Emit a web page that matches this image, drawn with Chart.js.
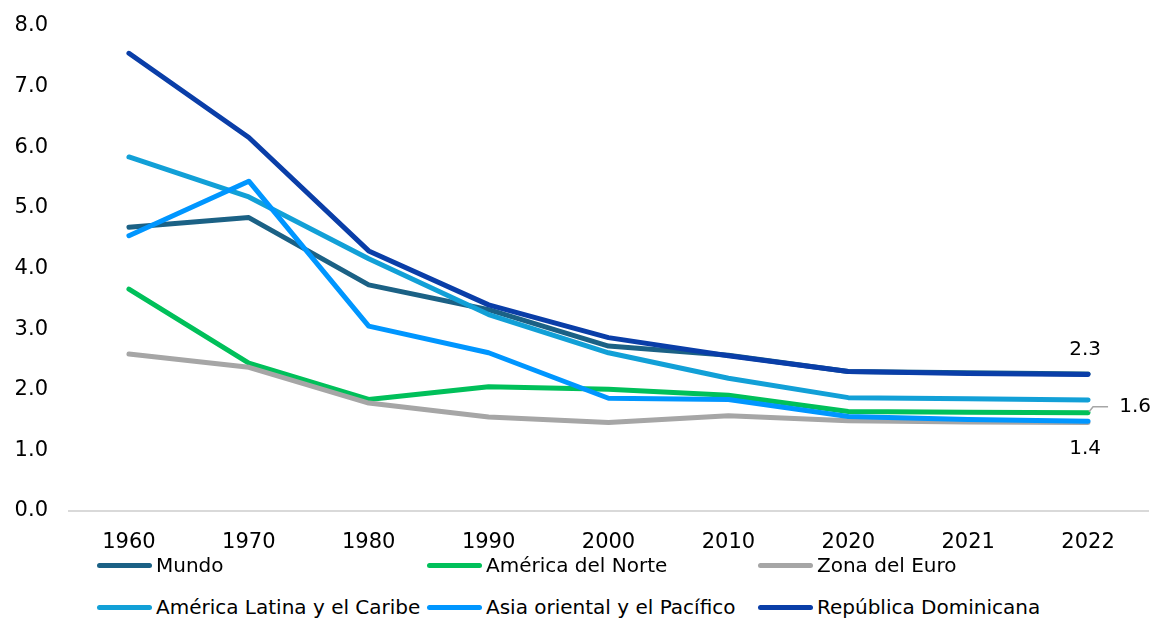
<!DOCTYPE html>
<html>
<head>
<meta charset="utf-8">
<title>Tasa de fecundidad</title>
<script src="https://cdn.jsdelivr.net/npm/chart.js@4/dist/chart.umd.min.js"></script>
<style>
  body { margin: 0; background: #fff; font-family: "DejaVu Sans", sans-serif; }
  #wrap { position: relative; width: 1154px; height: 619px; overflow: hidden; }
  #box { position: absolute; left: 0; top: 0; width: 1154px; height: 555px; }
  .leg { position: absolute; display: flex; align-items: center; height: 28px; font-size: 20px; color: #000; white-space: nowrap; }
  .leg .sw { display: inline-block; width: 55px; height: 5px; border-radius: 3px; margin-right: 4px; }
</style>
</head>
<body>
<div id="wrap">
  <div id="box"><canvas id="linechartdiv"></canvas></div>
</div>
<script>
// datos
var years = ["1960", "1970", "1980", "1990", "2000", "2010", "2020", "2021", "2022"];
var seriesNames = ["Mundo", "América del Norte", "Zona del Euro", "América Latina y el Caribe", "Asia oriental y el Pacífico", "República Dominicana"];
var mundo = [4.68, 4.84, 3.73, 3.32, 2.72, 2.57, 2.30, 2.28, 2.26];
var norte = [3.66, 2.44, 1.84, 2.05, 2.01, 1.91, 1.64, 1.63, 1.62];
var euro = [2.59, 2.37, 1.78, 1.55, 1.46, 1.57, 1.49, 1.47, 1.46];
var latam = [5.84, 5.18, 4.16, 3.24, 2.61, 2.19, 1.87, 1.85, 1.83];
var asia = [4.54, 5.44, 3.05, 2.61, 1.86, 1.84, 1.56, 1.51, 1.48];
var repdom = [7.55, 6.16, 4.29, 3.40, 2.86, 2.56, 2.30, 2.27, 2.25];
var endLabels = ["", "1.6", "1.4", "", "", "2.3"];
var colors = ["#1b6185", "#00c05a", "#a6a6a6", "#12a0d7", "#0096ff", "#0a3ea8"];

var allValues = [mundo, norte, euro, latam, asia, repdom];

var datasets = allValues.map(function (vals, i) {
    return {
        label: seriesNames[i],
        data: vals,
        borderColor: colors[i],
        backgroundColor: colors[i],
        borderWidth: 5,
        borderCapStyle: "round",
        borderJoinStyle: "round",
        pointRadius: 0,
        tension: 0,
        fill: false,
        order: allValues.length - i
    };
});

// etiquetas al final de la serie
var endLabelPlugin = {
    id: "endLabels",
    afterDatasetsDraw: function (chart) {
        var ctx = chart.ctx;
        ctx.save();
        ctx.font = "20px 'DejaVu Sans', sans-serif";
        ctx.fillStyle = "#000";
        ctx.textAlign = "center";
        ctx.textBaseline = "middle";
        chart.data.datasets.forEach(function (ds, i) {
            var txt = endLabels[i];
            if (!txt) return;
            var meta = chart.getDatasetMeta(i);
            var pt = meta.data[meta.data.length - 1];
            if (i === 5) {
                ctx.fillText(txt, pt.x - 3, pt.y - 25);
            } else if (i === 2) {
                ctx.fillText(txt, pt.x - 3, pt.y + 26);
            } else {
                ctx.strokeStyle = "#a6a6a6";
                ctx.lineWidth = 1.5;
                ctx.beginPath();
                ctx.moveTo(pt.x + 1, pt.y - 1);
                ctx.lineTo(pt.x + 5, pt.y - 6);
                ctx.lineTo(pt.x + 20, pt.y - 6);
                ctx.stroke();
                ctx.fillText(txt, pt.x + 47, pt.y - 6);
            }
        });
        ctx.restore();
    }
};

new Chart("linechartdiv", {
    type: "line",
    data: {
        labels: years,
        datasets: datasets
    },
    options: {
        animation: false,
        responsive: true,
        maintainAspectRatio: false,
        layout: { padding: { top: 26, right: 6, left: 0, bottom: 0 } },
        plugins: {
            legend: { display: false },
            tooltip: { enabled: false }
        },
        scales: {
            x: {
                offset: true,
                grid: { display: false, drawTicks: false },
                border: { display: true, color: "#d9d9d9", width: 2 },
                ticks: { color: "#000", font: { size: 21, family: "DejaVu Sans" }, padding: 19, maxRotation: 0 },
                afterFit: function (s) { s.height = 44; s.paddingLeft = 0; s.paddingRight = 0; }
            },
            y: {
                min: 0,
                max: 8,
                grid: { display: false, drawTicks: false },
                border: { display: false },
                ticks: {
                    stepSize: 1,
                    color: "#000",
                    font: { size: 21, family: "DejaVu Sans" },
                    padding: 21,
                    callback: function (v) { return v.toFixed(1); }
                },
                afterFit: function (s) { s.width = 69; s.paddingTop = 0; s.paddingBottom = 0; }
            }
        }
    },
    plugins: [endLabelPlugin]
});

// leyenda en 3 columnas
var legCols = [97, 427, 758];
var legRows = [565, 607];
var wrap = document.getElementById("wrap");
seriesNames.forEach(function (name, i) {
    var d = document.createElement("div");
    d.className = "leg";
    d.style.left = legCols[i % 3] + "px";
    d.style.top = (legRows[Math.floor(i / 3)] - 14) + "px";
    var sw = document.createElement("span");
    sw.className = "sw";
    sw.style.background = colors[i];
    d.appendChild(sw);
    d.appendChild(document.createTextNode(name));
    wrap.appendChild(d);
});
</script>
</body>
</html>
